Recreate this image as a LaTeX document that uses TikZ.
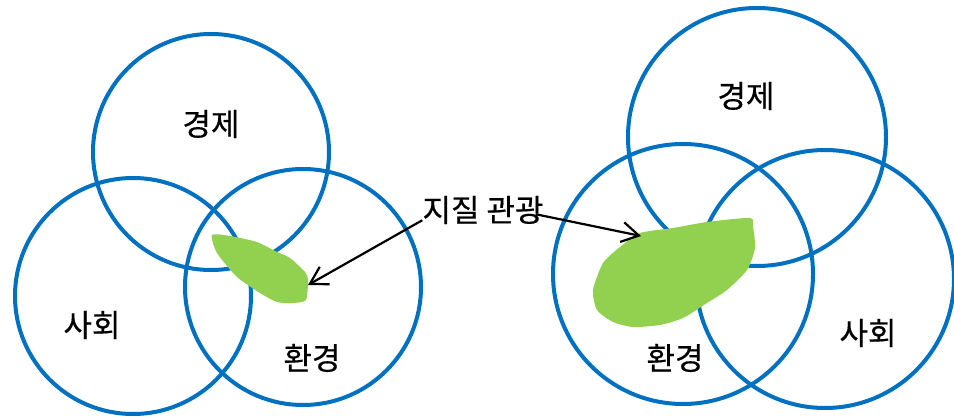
\documentclass[tikz,border=0pt]{standalone}
\usepackage{fontspec}
\setmainfont{Noto Sans CJK KR}[FakeBold=0.5]
\usetikzlibrary{arrows.meta}
\definecolor{vennblue}{RGB}{0,112,192}
\definecolor{blobgreen}{RGB}{146,208,80}
\tikzset{venn/.style={draw=vennblue, line width=4pt},
	blob/.style={fill=blobgreen, draw=none},
	pointer/.style={draw=black, line width=2.2pt, -{Straight Barb[length=17pt,width=20pt,line width=2.2pt]}},
	lbl/.style={font=\fontsize{31}{36}\selectfont, inner sep=0pt}}

\begin{document}
\begin{tikzpicture}[x=1pt,y=-1pt]
	\useasboundingbox (0,0) rectangle (954,417);
	% left diagram
	\draw[venn] (211,152) circle[radius=118pt];
	\draw[venn] (133,296) circle[radius=118pt];
	\draw[venn] (303,287) circle[radius=118pt];
	% right diagram
	\draw[venn] (757,137) circle[radius=129pt];
	\draw[venn] (683,274) circle[radius=130pt];
	\draw[venn] (825,279) circle[radius=129pt];
	% green areas
	\fill[blob] plot[smooth cycle, tension=0.4] coordinates {(212,235) (230,236) (257,242) (277,252) (290,258) (305,272) (308,280) (306,300) (293,303) (277,302) (260,293) (237,277) (217,253)};
	\fill[blob] plot[smooth cycle, tension=0.4] coordinates {(640,233) (673,228) (707,222) (750,218) (753,227) (755,248) (747,270) (727,290) (707,303) (683,318) (660,325) (633,327) (613,322) (597,310) (593,290) (603,263) (620,247)};
	% labels
	\node[lbl] (econL) at (211,124) {경제};
	\node[lbl] (socL) at (92,325) {사회};
	\node[lbl] (envL) at (312,358) {환경};
	\node[lbl] (econR) at (746,96) {경제};
	\node[lbl] (envR) at (675,358) {환경};
	\node[lbl] (socR) at (868,333) {사회};
	\node[lbl] (geo) at (483,210) {지질 관광};
	\coordinate (blobL) at (308,285);
	\coordinate (blobR) at (641,236);
	\draw[pointer] ([xshift=0pt,yshift=4pt]geo.south west) -- (blobL);
	\draw[pointer] ([xshift=-8pt,yshift=10pt]geo.south east) -- (blobR);
\end{tikzpicture}
\end{document}
